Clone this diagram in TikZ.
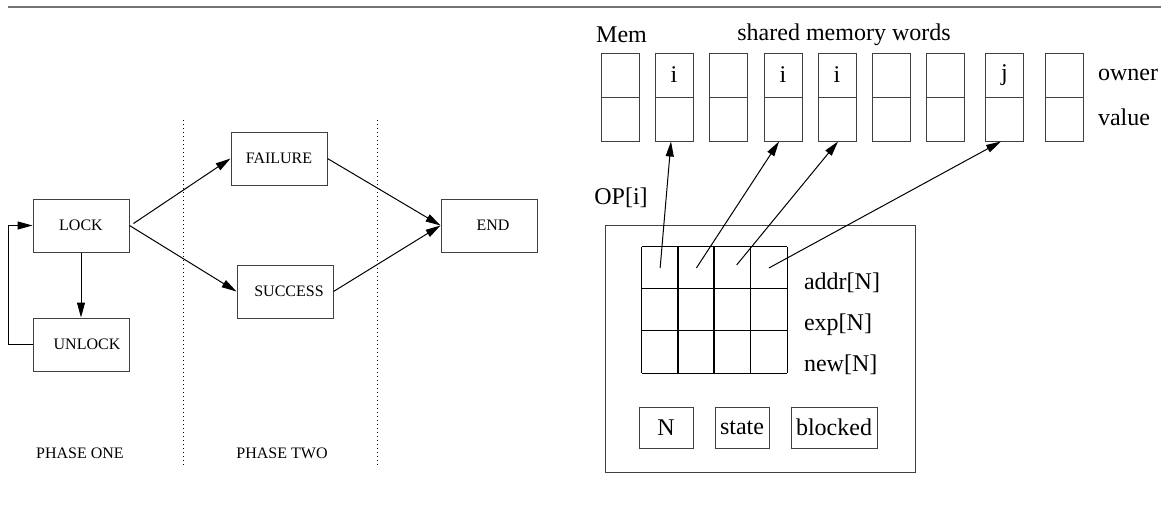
\documentclass[tikz,border=0pt]{standalone}
\usepackage{fontspec}
\setmainfont{Liberation Serif}
\usetikzlibrary{arrows.meta,calc}

\begin{document}
\begin{tikzpicture}[x=0.5pt,y=-0.5pt,
  small/.style={font=\fontsize{8}{9}\selectfont},
  big/.style={font=\fontsize{12}{14}\selectfont},
  statebox/.style={draw=black!75, line width=0.5pt, inner sep=0pt,
    minimum width=48pt, minimum height=26.5pt, small},
  word/.style={draw=black!75, line width=0.5pt, inner sep=0pt,
    minimum width=19pt, minimum height=22pt, big},
  cell/.style={inner sep=0pt, minimum width=18.125pt, minimum height=21pt},
  gridline/.style={draw=black, line width=0.75pt},
  field/.style={draw=black!75, line width=0.5pt, inner sep=0pt,
    minimum height=20.5pt, big},
  arr/.style={-{Triangle[length=7.5pt,width=4pt]}, line width=0.5pt},
  sep/.style={line width=0.5pt, dash pattern=on 0.5pt off 1.5pt}
]
\useasboundingbox (0,0) rectangle (1170,514);

% rule across the top
\draw[line width=1pt, black!55] (8,7) -- (1161,7);

% ---------- two-phase locking ----------
\node[statebox] (lock)    at (81,225.5)  {LOCK};
\node[statebox] (unlock)  at (81,344.5)  {\hspace*{6pt}UNLOCK};
\node[statebox] (failure) at (279,158.5) {FAILURE};
\node[statebox] (success) at (285,291.5) {\hspace*{4pt}SUCCESS};
\node[statebox] (end)     at (489,225.5) {\hspace*{4pt}END};

\draw[sep] (183,120) -- (183,467);
\draw[sep] (377,120) -- (377,467);

\node[small] (ph1) at (80,453)  {PHASE ONE};
\node[small] (ph2) at (282,453) {PHASE TWO};

\draw[arr] (lock.south) -- (unlock.north);
\draw[arr] (unlock.west) -- ++(-24,0) |- (lock.west);
\draw[arr] ($(lock.east)+(4,-2)$) -- (failure.west);
\draw[arr] (lock.east) -- (success.west);
\draw[arr] (failure.east) -- (end.west);
\draw[arr] (success.east) -- (end.west);

% ---------- shared memory ----------
\node[big] (memlbl) at (621.5,35) {Mem};
\node[big] (shlbl)  at (844,35)   {shared memory words};

\foreach \k/\x/\o in {1/620/,2/674/i,3/728/,4/783/i,5/837/i,6/891/,7/945/,8/1004.5/j,9/1064/}{
  \node[word] (m\k o) at (\x,75)  {\o};
  \node[word] (m\k v) at (\x,119) {};
}
\node[big, anchor=west] (ownlbl) at (1091,75)  {owner};
\node[big, anchor=west] (vallbl) at (1091,117) {value};

% ---------- operation descriptor ----------
\node[big] (oplbl) at (621,198) {OP[i]};
\node[draw=black!75, line width=0.5pt, minimum width=155pt, minimum height=123.5pt,
      inner sep=0pt] (op) at (760,348.5) {};

% 3 x 4 table of addr / exp / new entries
\foreach \r in {1,2,3}{
  \foreach \c in {1,2,3,4}{
    \node[cell] (g\r\c) at ({642+36.25*(\c-0.5)},{247+42*(\r-0.5)}) {};
  }
}
\foreach \c in {1,2,3,4}{
  \draw[gridline] (g1\c.north west) -- (g3\c.south west);
}
\draw[gridline] (g14.north east) -- (g34.south east);
\foreach \r in {1,2,3}{
  \draw[gridline] (g\r1.north west) -- (g\r4.north east);
}
\draw[gridline] (g31.south west) -- (g34.south east);

\node[big, anchor=west] (addr) at (797,283) {addr[N]};
\node[big, anchor=west] (expv) at (797,325) {exp[N]};
\node[big, anchor=west] (newv) at (797,365) {new[N]};

\node[field, minimum width=27pt] (fN)     at (666,427.5) {N};
\node[field, minimum width=27pt] (fstate) at (742,427.5) {state};
\node[field, minimum width=43pt] (fblk)   at (834,427.5) {blocked};

\draw[arr] (g11.center) -- ($(m2v.south)+(-3,0)$);
\draw[arr] (g12.center) -- ($(m4v.south)+(-4,0)$);
\draw[arr] ($(g13.center)+(4,-3)$) -- ($(m5v.south)+(1,0)$);
\draw[arr] (g14.center) -- ($(m8v.south)+(-3.5,0)$);
\end{tikzpicture}
\end{document}
